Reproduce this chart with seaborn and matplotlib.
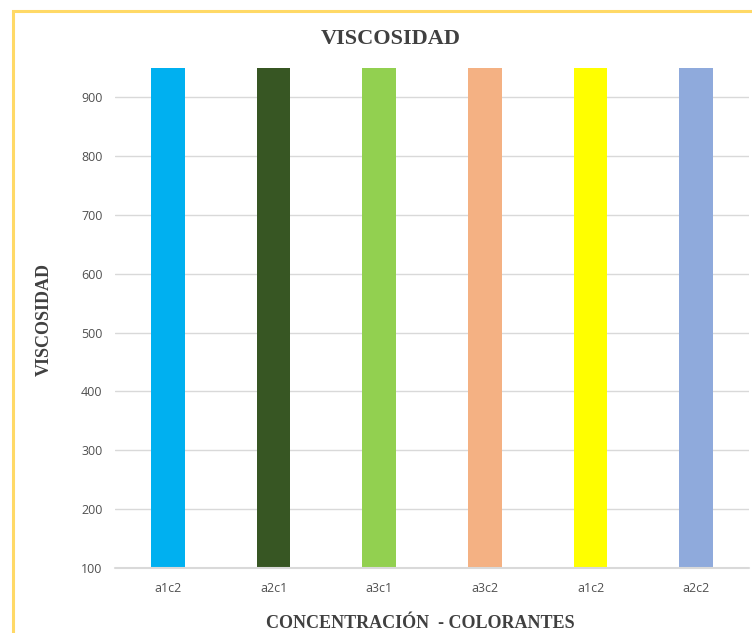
import matplotlib
matplotlib.use("Agg")
import matplotlib.pyplot as plt
from matplotlib.patches import Rectangle
import seaborn as sns
import pandas as pd

# Treatment labels and measured viscosity per sample
categories = ["a1c2", "a2c1", "a3c1", "a3c2", "a1c2", "a2c2"]
viscosity = [950, 950, 950, 950, 950, 950]
bar_colors = ["#00B0F0", "#375623", "#92D050", "#F4B183", "#FFFF00", "#8FAADC"]
y_ticks = [100, 200, 300, 400, 500, 600, 700, 800, 900]

sns.set_theme(style="white")
plt.rcParams["font.family"] = ["Open Sans", "DejaVu Sans"]

df = pd.DataFrame({
    "slot": [f"{i}" for i in range(len(categories))],
    "label": categories,
    "viscosity": viscosity,
})

fig = plt.figure(figsize=(7.52, 6.33), dpi=100)
ax = fig.add_axes([0.153, 0.1027, 0.843, 0.79])

sns.barplot(data=df, x="slot", y="viscosity", hue="slot",
            palette=bar_colors, width=0.32, legend=False, ax=ax,
            saturation=1, zorder=3, linewidth=0)

ax.set_ylim(100, 950)
ax.set_yticks(y_ticks)
ax.set_xticks(range(len(categories)))
ax.set_xticklabels(categories)
ax.tick_params(axis="both", length=0, colors="#505050", labelsize=9)
ax.tick_params(axis="x", pad=10)
ax.tick_params(axis="y", pad=9)
ax.yaxis.grid(True, color="#D9D9D9", linewidth=1, zorder=0)
ax.axhline(100, color="#D9D9D9", linewidth=1.5, zorder=4, clip_on=False)
ax.set_axisbelow(True)
for s in ax.spines.values():
    s.set_visible(False)

serif = ["Liberation Serif", "DejaVu Serif"]
ax.set_xlabel("CONCENTRACIÓN  - COLORANTES", family=serif, fontweight="bold",
              fontsize=13, color="#404040")
ax.set_ylabel("VISCOSIDAD", family=serif, fontweight="bold",
              fontsize=13, color="#404040")
ax.xaxis.set_label_coords(0.481, -0.112)
ax.yaxis.set_label_coords(-0.112, 0.496)
ax.xaxis.label.set_va("center")
ax.yaxis.label.set_va("center")
fig.text(0.519, 0.939, "VISCOSIDAD", family=serif, fontweight="bold",
         fontsize=16, color="#404040", ha="center", va="center")

# Gold frame around the chart area
fig.patches.append(Rectangle((13 / 752, -0.05), 1.0, 1 - 11 / 633 + 0.05,
                             transform=fig.transFigure, fill=False,
                             edgecolor="#FFD966", linewidth=2.2, zorder=10))

fig.savefig("out.png", dpi=100, facecolor="white")
